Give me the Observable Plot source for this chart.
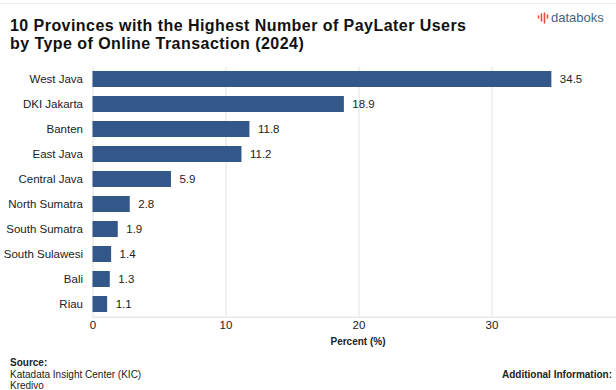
<!DOCTYPE html>
<html>
<head>
<meta charset="utf-8">
<script src="https://cdn.jsdelivr.net/npm/d3@7"></script>
<script src="https://cdn.jsdelivr.net/npm/@observablehq/plot@0.6"></script>
<style>
  html, body { margin: 0; padding: 0; background: #fff; overflow: hidden; }
  #wrap { position: relative; width: 616px; height: 390px; overflow: hidden; font-family: "Liberation Sans", Arial, Helvetica, sans-serif; color: #111; }
  #chart { position: absolute; left: 0; top: 0; width: 640px; }
  #chart svg { max-width: none !important; width: 640px !important; height: 390px !important; }
  .abs { position: absolute; white-space: nowrap; }
  #topline { position: absolute; left: 0; top: 3px; width: 616px; height: 1px; background: #ececec; }
  .title { left: 10px; font-size: 16px; font-weight: bold; line-height: 16px; letter-spacing: 0.45px; color: #111; }
  #title1 { top: 17.5px; }
  #title2 { top: 35.5px; }
  #logo { left: 537px; top: 10px; font-size: 13px; color: #3f6486; display: flex; align-items: center; gap: 2px; }
  #xlabel { left: 358px; top: 336px; transform: translateX(-50%); font-size: 10px; font-weight: bold; color: #222; }
  #src { left: 10px; top: 357px; font-size: 10px; line-height: 11.5px; color: #222; }
  #add { right: 4px; top: 369px; font-size: 10px; font-weight: bold; color: #222; }
</style>
</head>
<body>
<div id="wrap">
  <div id="chart"></div>
  <div id="topline"></div>
  <div id="title1" class="abs title">10 Provinces with the Highest Number of PayLater Users</div>
  <div id="title2" class="abs title">by Type of Online Transaction (2024)</div>
  <div id="logo" class="abs"><svg width="12" height="12" viewBox="0 0 12 12"><g stroke="#e8503a" stroke-width="1.6" stroke-linecap="round"><line x1="1.5" y1="4" x2="1.5" y2="6"/><line x1="4.5" y1="2" x2="4.5" y2="9"/><line x1="7.5" y1="1" x2="7.5" y2="11"/><line x1="10.5" y1="3" x2="10.5" y2="6"/></g></svg><span>databoks</span></div>
  <div id="xlabel" class="abs">Percent (%)</div>
  <div id="src" class="abs"><b>Source:</b><br>Katadata Insight Center (KIC)<br>Kredivo</div>
  <div id="add" class="abs">Additional Information:</div>
</div>
<script>
const provinces = ["West Java", "DKI Jakarta", "Banten", "East Java", "Central Java", "North Sumatra", "South Sumatra", "South Sulawesi", "Bali", "Riau"];
const percents = [34.5, 18.9, 11.8, 11.2, 5.9, 2.8, 1.9, 1.4, 1.3, 1.1];
const xTicks = [0, 10, 20, 30, 40];

const data = provinces.map((p, i) => ({province: p, value: percents[i]}));

const chart = Plot.plot({
  width: 640,
  height: 390,
  marginLeft: 92.5,
  marginRight: 15.5,
  marginTop: 66.7,
  marginBottom: 73.3,
  style: {fontFamily: "'Liberation Sans', Arial, Helvetica, sans-serif", fontSize: "11px", color: "#333", background: "transparent", overflow: "visible", maxWidth: "none"},
  x: {domain: [0, 40]},
  y: {domain: provinces, paddingInner: 0.34, paddingOuter: 0.17},
  marks: [
    Plot.gridX(xTicks, {stroke: "#e2e2e2", strokeOpacity: 1}),
    Plot.frame({anchor: "bottom", stroke: "#dcdcdc"}),
    Plot.barX(data, {x: "value", y: "province", fill: "#34578a"}),
    Plot.text(data, {x: "value", y: "province", text: d => d.value.toFixed(1), textAnchor: "start", dx: 8, fill: "#222", fontSize: 11.5}),
    Plot.axisX({ticks: xTicks, tickSize: 0, tickPadding: 4, label: null, fill: "#222", fontSize: 11.5}),
    Plot.axisY({tickSize: 0, tickPadding: 10, label: null, fill: "#222", fontSize: 11.5})
  ]
});
document.getElementById("chart").appendChild(chart);
</script>
</body>
</html>
